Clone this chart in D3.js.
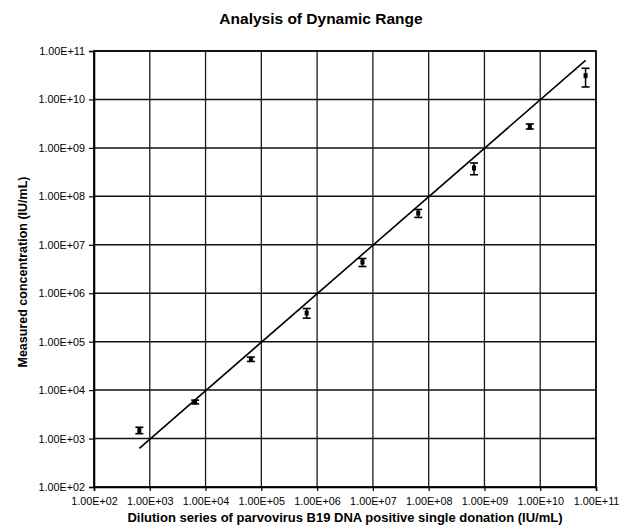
<!DOCTYPE html>
<html>
<head>
<meta charset="utf-8">
<script src="https://cdn.jsdelivr.net/npm/d3@7"></script>
<style>
  body { margin: 0; background: #fff; }
  text { font-family: "Liberation Sans", Arial, sans-serif; fill: #000; }
</style>
</head>
<body>
<figure id="dynRange" style="margin:0"></figure>
<script>
// decade ticks, both axes
var decades = [1e2, 1e3, 1e4, 1e5, 1e6, 1e7, 1e8, 1e9, 1e10, 1e11];

// dilution series (x) and measured concentration (y) with error bar limits
var dilution = [6.5e2, 6.5e3, 6.5e4, 6.5e5, 6.5e6, 6.5e7, 6.5e8, 6.5e9, 6.5e10];
var measured = [1.46e3, 5.7e3, 4.35e4, 3.9e5, 4.4e6, 4.5e7, 3.85e8, 2.74e9, 3.1e10];
var errHigh  = [1.71e3, 6.2e3, 4.8e4, 4.83e5, 5.2e6, 5.36e7, 4.88e8, 3.12e9, 4.4e10];
var errLow   = [1.26e3, 5.2e3, 3.9e4, 3.06e5, 3.56e6, 3.67e7, 2.79e8, 2.45e9, 1.81e10];

// line of identity drawn over the range
var fitX = [6.5e2, 6.5e10];
var fitY = [6.3e2, 6.4e10];

var margin = {top: 51, right: 33, bottom: 45, left: 94},
    width = 629 - margin.left - margin.right,
    height = 532 - margin.top - margin.bottom;

var svg = d3.select("figure#dynRange")
    .append("svg")
    .attr("width", 629)
    .attr("height", 532);

svg.append("rect").attr("width", 629).attr("height", 532).attr("fill", "#fff");

var g = svg.append("g")
    .attr("transform", "translate(" + margin.left + "," + margin.top + ")");

var x = d3.scaleLog().domain([1e2, 1e11]).range([0, width]);
var y = d3.scaleLog().domain([1e2, 1e11]).range([height, 0]);

function sci(d) {
    var e = Math.round(Math.log10(d));
    return "1.00E+" + (e < 10 ? "0" + e : e);
}

// gridlines
g.selectAll("line.hgrid")
    .data(decades)
    .enter().append("line")
    .attr("class", "hgrid")
    .attr("x1", 0).attr("x2", width)
    .attr("y1", function(d) { return y(d); })
    .attr("y2", function(d) { return y(d); })
    .attr("stroke", "#111")
    .attr("stroke-width", 1.5);

g.selectAll("line.vgrid")
    .data(decades)
    .enter().append("line")
    .attr("class", "vgrid")
    .attr("y1", 0).attr("y2", height)
    .attr("x1", function(d) { return x(d); })
    .attr("x2", function(d) { return x(d); })
    .attr("stroke", "#1a1a1a")
    .attr("stroke-width", 1.3);

// axes
var xAxis = g.append("g")
    .attr("transform", "translate(0," + height + ")")
    .call(d3.axisBottom(x).tickValues(decades).tickFormat(sci).tickSize(4).tickPadding(6));

var yAxis = g.append("g")
    .call(d3.axisLeft(y).tickValues(decades).tickFormat(sci).tickSize(5).tickPadding(4));

[xAxis, yAxis].forEach(function(a) {
    a.select(".domain").attr("stroke", "#000").attr("stroke-width", 1.6);
    a.selectAll(".tick line").attr("stroke", "#000").attr("stroke-width", 1.2);
    a.selectAll(".tick text")
        .style("font-family", "'Liberation Sans', Arial, sans-serif")
        .style("font-size", "10.8px")
        .attr("fill", "#000");
});

// frame top/right
g.append("rect")
    .attr("width", width).attr("height", height)
    .attr("fill", "none")
    .attr("stroke", "#000")
    .attr("stroke-width", 1.5);

// fit line
var line = d3.line()
    .x(function(d) { return x(d[0]); })
    .y(function(d) { return y(d[1]); });

g.append("path")
    .datum(d3.zip(fitX, fitY))
    .attr("d", line)
    .attr("fill", "none")
    .attr("stroke", "#000")
    .attr("stroke-width", 1.6);

// error bars
var pts = dilution.map(function(d, i) {
    return {x: d, y: measured[i], lo: errLow[i], hi: errHigh[i]};
});

var eb = g.selectAll("g.eb")
    .data(pts)
    .enter().append("g")
    .attr("class", "eb");

eb.append("line")
    .attr("x1", function(d) { return x(d.x); })
    .attr("x2", function(d) { return x(d.x); })
    .attr("y1", function(d) { return y(d.hi); })
    .attr("y2", function(d) { return y(d.lo); })
    .attr("stroke", "#000").attr("stroke-width", 1.5);

["hi", "lo"].forEach(function(k) {
    eb.append("line")
        .attr("x1", function(d) { return x(d.x) - 4; })
        .attr("x2", function(d) { return x(d.x) + 4; })
        .attr("y1", function(d) { return y(d[k]); })
        .attr("y2", function(d) { return y(d[k]); })
        .attr("stroke", "#000").attr("stroke-width", 1.6);
});

eb.append("rect")
    .attr("x", function(d) { return x(d.x) - 2; })
    .attr("y", function(d) { return y(d.y) - 2.5; })
    .attr("width", 4).attr("height", 5)
    .attr("fill", "#000");

// titles
svg.append("text")
    .attr("x", 321).attr("y", 24)
    .attr("text-anchor", "middle")
    .style("font-size", "15.5px").style("font-weight", "bold")
    .text("Analysis of Dynamic Range");

svg.append("text")
    .attr("x", 345).attr("y", 522)
    .attr("text-anchor", "middle")
    .style("font-size", "13px").style("font-weight", "bold")
    .text("Dilution series of parvovirus B19 DNA positive single donation (IU/mL)");

svg.append("text")
    .attr("transform", "translate(27,272) rotate(-90)")
    .attr("text-anchor", "middle")
    .style("font-size", "12.5px").style("font-weight", "bold")
    .text("Measured concentration (IU/mL)");
</script>
</body>
</html>
